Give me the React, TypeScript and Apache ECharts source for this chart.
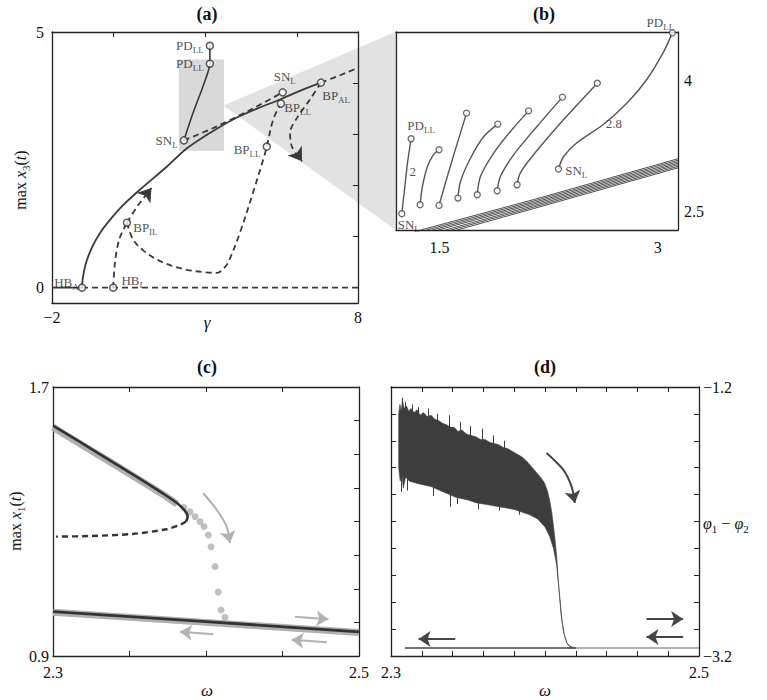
import React, { useEffect, useRef } from 'react';
import * as echarts from 'echarts';

const FONT = '"Liberation Serif", "DejaVu Serif", serif';
const DARK = '#3a3a3a';
const GRAY = '#b0b0b0';

// ---------- Panel (a) ----------
const aStableLeft = [[-2, 0], [-1.02, 0]];
const aTrivialUnstable = [[-1.02, 0], [8, 0]];
const aMainBranch = [[-1.02, 0], [-1.0, 0.15], [-0.96, 0.3], [-0.88, 0.5], [-0.7, 0.78], [-0.43, 1.07], [-0.1, 1.33], [0.3, 1.6], [0.88, 1.92], [1.76, 2.37], [2.4, 2.72], [3.2, 3.04], [3.92, 3.29], [4.7, 3.5], [5.45, 3.68], [6.1, 3.85], [6.79, 4.01]];
const aMainUnstable = [[6.79, 4.01], [7.4, 4.15], [8, 4.3]];
const aSnBranch = [[2.31, 2.88], [3.3, 3.13], [4.4, 3.45], [5.54, 3.82]];
const aPdBranch = [[2.31, 2.88], [2.61, 3.42], [2.93, 3.93], [3.16, 4.38], [3.16, 4.73]];
const aHbiRise = [[0, 0], [0.06, 0.5], [0.2, 0.95], [0.45, 1.27]];
const aBpilArrow = [[0.45, 1.27], [0.8, 1.6], [1.25, 1.95]];
const aLoop = [[0.45, 1.27], [0.65, 0.94], [1.0, 0.72], [1.43, 0.55], [1.9, 0.43], [2.4, 0.35], [3.0, 0.3], [3.39, 0.29], [3.65, 0.4], [3.8, 0.55], [4.14, 1.07], [4.57, 1.86], [4.9, 2.5], [5.02, 2.76], [5.23, 3.29], [5.48, 3.6]];
const aBpalArrow = [[6.79, 4.01], [6.43, 3.68], [6.04, 3.35], [5.78, 3.03], [5.84, 2.76], [6.17, 2.47]];
const aPoints = [[-1.02, 0], [0, 0], [0.45, 1.27], [2.31, 2.88], [3.16, 4.38], [3.16, 4.73], [5.54, 3.82], [5.48, 3.6], [5.02, 2.76], [6.79, 4.01]];
const aPointNames = ['HB_A', 'HB_I', 'BP_IL', 'SN_L', 'PD_LL', 'PD_LL', 'SN_L', 'BP_LL', 'BP_LL', 'BP_AL'];
const aZoomRect = [[2.15, 4.46], [3.62, 2.68]];
const aConnector = [[3.62, 3.56], [9.24, 5.0], [9.24, 1.13]];

// ---------- Panel (b) ----------
const bCurves = [
  [[1.240, 2.477], [1.261, 2.789], [1.279, 3.057], [1.304, 3.336]],
  [[1.366, 2.580], [1.382, 2.789], [1.416, 3.018], [1.457, 3.152], [1.496, 3.210]],
  [[1.496, 2.572], [1.553, 2.904], [1.622, 3.286], [1.685, 3.630]],
  [[1.626, 2.656], [1.644, 2.847], [1.713, 3.115], [1.804, 3.362], [1.900, 3.504]],
  [[1.759, 2.694], [1.781, 2.904], [1.872, 3.172], [1.987, 3.420], [2.112, 3.656]],
  [[1.896, 2.740], [1.918, 2.904], [2.009, 3.152], [2.170, 3.477], [2.345, 3.813]],
  [[2.033, 2.809], [2.055, 2.943], [2.146, 3.152], [2.352, 3.553], [2.585, 3.973]],
  [[2.318, 2.99], [2.352, 3.13], [2.444, 3.29], [2.626, 3.50], [2.786, 3.74], [2.923, 4.01], [3.037, 4.32], [3.101, 4.55]],
];
const bBandStartX = [1.37, 1.41, 1.45, 1.49, 1.54, 1.58, 1.62];
const bBandMidX = 2.144;
const bBandMidY = [2.637, 2.620, 2.603, 2.586, 2.568, 2.551, 2.534];
const bBandEndX = 3.14;
const bBandEndY = [3.107, 3.090, 3.072, 3.055, 3.038, 3.020, 3.003];
const bBandBottomY = 2.29;
const bCurveNumbers = [{ value: [1.316, 2.96], text: '2' }, { value: [2.699, 3.51], text: '2.8' }];

// ---------- Panel (c) ----------
const cUpperStable = [[2.3, 1.585], [2.33, 1.502], [2.355, 1.432], [2.372, 1.383], [2.381, 1.355], [2.386, 1.333], [2.388, 1.315], [2.387, 1.300]];
const cUpperUnstable = [[2.387, 1.300], [2.383, 1.290], [2.374, 1.277], [2.352, 1.263], [2.325, 1.257], [2.302, 1.255]];
const cLowerStable = [[2.3, 1.032], [2.4, 1.002], [2.5, 0.972]];
const cSimUpper = [[2.3, 1.58], [2.33, 1.497], [2.355, 1.428], [2.372, 1.38], [2.381, 1.352]];
const cSimLower = [[2.3, 1.03], [2.4, 1.0], [2.5, 0.97]];
const cSimDrop = [[2.3855, 1.342], [2.3895, 1.329], [2.3928, 1.315], [2.3961, 1.300], [2.3987, 1.285], [2.4015, 1.260], [2.4033, 1.225], [2.4059, 1.166], [2.4080, 1.090], [2.4098, 1.037], [2.4124, 1.015]];
const cArrowDown = [[2.3982, 1.384], [2.4070, 1.335], [2.4135, 1.285], [2.4157, 1.236]];
const cArrowRight = [[2.4582, 1.017], [2.48, 1.009]];
const cArrowLeft1 = [[2.4048, 0.965], [2.383, 0.972]];
const cArrowLeft2 = [[2.479, 0.941], [2.456, 0.948]];

// ---------- Panel (d) ----------
const dUpper = [[2.3050, -1.40], [2.3058, -1.33], [2.3066, -1.38], [2.3075, -1.30], [2.3085, -1.36], [2.3100, -1.34], [2.3115, -1.38], [2.3130, -1.36], [2.3150, -1.39], [2.3170, -1.37], [2.3190, -1.41], [2.3210, -1.39], [2.3235, -1.42], [2.3260, -1.41], [2.3285, -1.44], [2.3310, -1.45], [2.3335, -1.47], [2.3360, -1.48], [2.3385, -1.50], [2.3410, -1.50], [2.3435, -1.53], [2.3460, -1.52], [2.3490, -1.55], [2.3520, -1.56], [2.3550, -1.57], [2.3580, -1.59], [2.3610, -1.59], [2.3640, -1.61], [2.3670, -1.62], [2.3700, -1.63], [2.3730, -1.65], [2.3760, -1.66], [2.3790, -1.68], [2.3820, -1.70], [2.3850, -1.72], [2.3880, -1.75], [2.3910, -1.79], [2.3940, -1.83], [2.3970, -1.87], [2.3995, -1.91], [2.4015, -1.97], [2.4030, -2.04], [2.4045, -2.14], [2.4060, -2.28], [2.4075, -2.45], [2.4090, -2.70], [2.4105, -2.90], [2.4120, -3.02], [2.4140, -3.10], [2.4165, -3.13], [2.4200, -3.14]];
const dLower = [[2.3050, -1.80], [2.3060, -1.90], [2.3070, -1.84], [2.3080, -1.95], [2.3095, -1.87], [2.3120, -1.90], [2.3150, -1.91], [2.3180, -1.92], [2.3220, -1.93], [2.3260, -1.94], [2.3300, -1.96], [2.3340, -1.98], [2.3380, -2.00], [2.3420, -2.02], [2.3460, -2.03], [2.3500, -2.04], [2.3550, -2.06], [2.3600, -2.07], [2.3650, -2.08], [2.3700, -2.09], [2.3750, -2.10], [2.3800, -2.11], [2.3850, -2.13], [2.3900, -2.15], [2.3950, -2.18], [2.4000, -2.24], [2.4030, -2.31], [2.4055, -2.40], [2.4075, -2.52], [2.4095, -2.75], [2.4110, -2.93], [2.4125, -3.04], [2.4145, -3.11], [2.4170, -3.14], [2.4200, -3.14]];
// individual noise spikes: [x, top, bottom]
const dSpikes = [[2.3072, -1.28, -1.40], [2.3092, -1.31, -1.40], [2.3140, -1.33, -1.42], [2.3178, -1.35, -1.43], [2.3244, -1.36, -1.45], [2.3302, -1.40, -1.48], [2.3376, -1.41, -1.52], [2.3448, -1.46, -1.55], [2.3512, -1.49, -1.58], [2.3592, -1.51, -1.61], [2.3662, -1.56, -1.64], [2.3738, -1.60, -1.67], [2.3064, -1.82, -1.98], [2.3108, -1.86, -1.97], [2.3272, -1.90, -2.01], [2.3386, -1.95, -2.09], [2.3428, -1.98, -2.07], [2.3564, -2.02, -2.11], [2.3702, -2.05, -2.12], [2.3836, -2.09, -2.15]];
const dFlatDark = [[2.309, -3.141], [2.42, -3.141]];
const dFlatGray = [[2.415, -3.141], [2.5, -3.141]];
const dArrowDown = [[2.4010, -1.691], [2.4118, -1.815], [2.4172, -1.939], [2.4194, -2.062]];
const dArrowRight = [[2.4659, -2.925], [2.4897, -2.925]];
const dArrowLeft1 = [[2.4897, -3.059], [2.4659, -3.059]];
const dArrowLeft2 = [[2.3417, -3.074], [2.3179, -3.074]];

// ---------- helpers ----------
const fmt = (v: number) => (v < 0 ? '\u2212' : '') + String(Math.abs(v));
const richSub = (name: string) => {
  const [m, s] = name.split('_');
  return s ? `{m|${m}}{s|${s}}` : `{m|${m}}`;
};
const labelRich = {
  m: { fontFamily: FONT, fontSize: 13, color: '#222', lineHeight: 18 },
  s: { fontFamily: FONT, fontSize: 9, color: '#222', lineHeight: 8, verticalAlign: 'bottom' },
};

const axis = (grid: number, position: string, min: number, max: number, ticks: number[], labels: number[], margin = 6) => ({
  type: 'value',
  gridIndex: grid,
  position,
  min,
  max,
  axisLine: { show: true, onZero: false, lineStyle: { color: '#222', width: 1.3 } },
  axisTick: { show: ticks.length > 0, inside: true, length: 5, customValues: ticks, lineStyle: { color: '#222', width: 1 } },
  axisLabel: { show: labels.length > 0, customValues: labels, margin, formatter: fmt, color: '#111', fontFamily: FONT, fontSize: 16 },
  splitLine: { show: false },
});

const ln = (g: number, data: number[][], color: string, width: number, dashed = false, z = 3, smooth: number | boolean = 0.3) => ({
  type: 'line', xAxisIndex: 2 * g, yAxisIndex: 2 * g, data, showSymbol: false, symbol: 'none', smooth,
  lineStyle: { color, width, type: dashed ? [6, 4] : 'solid', cap: 'butt' }, z, silent: true,
});

// arrow = body line + arrowhead drawn on the last segment
const arrow = (g: number, coords: number[][], color: string, width: number, dashed = false, size = 11) => [
  ln(g, coords, color, width, dashed, 5, coords.length > 2 ? 0.3 : false),
  {
    type: 'lines', coordinateSystem: 'cartesian2d', xAxisIndex: 2 * g, yAxisIndex: 2 * g,
    data: [{ coords: coords.slice(-2) }], symbol: ['none', 'arrow'], symbolSize: size,
    lineStyle: { color, width: 0.01, opacity: 1 }, z: 6, silent: true,
  },
];

const polygonSeries = (g: number, pts: number[][], color: string, z: number, clip = true) => ({
  type: 'custom', xAxisIndex: 2 * g, yAxisIndex: 2 * g, data: [pts[0]], clip, z, silent: true,
  renderItem: (_p: any, api: any) => ({
    type: 'polygon',
    shape: { points: pts.map((p) => api.coord(p)) },
    style: { fill: color, stroke: color, lineWidth: 0.6 },
  }),
});

export default function App() {
  const ref = useRef<HTMLDivElement>(null);
  useEffect(() => {
    if (!ref.current) return;
    const chart = echarts.init(ref.current, undefined, { renderer: 'svg' });

    const aLabelPlace: any[] = [
      { position: 'left', distance: -1, offset: [0, -5] },
      { position: 'right', distance: 4, offset: [0, -7] },
      { position: 'right', distance: 2, offset: [0, 5] },
      { position: 'left', distance: 2, offset: [0, 0] },
      { position: 'left', distance: 2, offset: [0, 0] },
      { position: 'left', distance: 2, offset: [0, 0] },
      { position: 'top', distance: 3, offset: [2, 0] },
      { position: 'right', distance: 2, offset: [-3, 4] },
      { position: 'left', distance: 2, offset: [0, 3] },
      { position: 'right', distance: 2, offset: [-5, 13] },
    ];
    const lbl = (extra: any, name: string) => ({ show: true, color: '#222', ...extra, formatter: richSub(name), rich: labelRich });

    const bEnds: any[] = [];
    bCurves.forEach((c, i) => {
      const first = c[0];
      const last = c[c.length - 1];
      const startItem: any = { value: first };
      const endItem: any = { value: last };
      if (i === 0) {
        startItem.label = lbl({ position: 'bottom', distance: 1, offset: [7, -3] }, 'SN_L');
        endItem.label = lbl({ position: 'top', distance: 1, offset: [10, 0] }, 'PD_LL');
      }
      if (i === bCurves.length - 1) {
        startItem.label = lbl({ position: 'right', distance: 3, offset: [0, 2] }, 'SN_L');
        endItem.label = lbl({ position: 'top', distance: 0, offset: [-12, 2] }, 'PD_LL');
      }
      bEnds.push(startItem, endItem);
    });

    const bBand = bBandStartX.map((x, i) => ({
      coords: [[x, bBandBottomY], [bBandMidX, bBandMidY[i]], [bBandEndX, bBandEndY[i]]],
    }));
    const dSpikeLines = dSpikes.map(([x, t, b]) => ({ coords: [[x, t], [x, b]] }));

    const circleStyle = { color: '#fff', borderColor: '#333', borderWidth: 1.5 };

    const series: any[] = [
      // ---- (a)
      polygonSeries(0, aConnector, '#e2e2e2', 0, false),
      {
        type: 'line', xAxisIndex: 0, yAxisIndex: 0, data: [], silent: true, z: 0,
        markArea: { silent: true, itemStyle: { color: '#d9d9d9' }, data: [[{ coord: aZoomRect[0] }, { coord: aZoomRect[1] }]] },
      },
      ln(0, aStableLeft, DARK, 1.8, false, 3, false),
      ln(0, aTrivialUnstable, DARK, 1.8, true, 3, false),
      ln(0, aMainBranch, DARK, 1.8, false, 3, 0.3),
      ln(0, aMainUnstable, DARK, 1.8, true, 3, 0.2),
      ln(0, aSnBranch, DARK, 1.8, true, 3, 0.2),
      ln(0, aPdBranch, DARK, 1.6, false, 3, 0.2),
      ln(0, aHbiRise, DARK, 1.8, true, 3, 0.3),
      ln(0, aLoop, DARK, 1.8, true, 3, 0.35),
      ...arrow(0, aBpilArrow, DARK, 1.8, true, 13),
      ...arrow(0, aBpalArrow, DARK, 1.8, true, 13),
      {
        type: 'scatter', xAxisIndex: 0, yAxisIndex: 0, symbol: 'circle', symbolSize: 7, itemStyle: circleStyle, z: 8, silent: true,
        data: aPoints.map((p, i) => ({ value: p, label: lbl(aLabelPlace[i], aPointNames[i]) })),
      },
      // ---- (b)
      {
        type: 'lines', coordinateSystem: 'cartesian2d', xAxisIndex: 2, yAxisIndex: 2, polyline: true, data: bBand,
        lineStyle: { color: '#3a3a3a', width: 0.9, opacity: 1 }, z: 2, silent: true,
      },
      ...bCurves.map((c) => ln(1, c, '#555', 1.4, false, 3, 0.3)),
      {
        type: 'scatter', xAxisIndex: 2, yAxisIndex: 2, symbol: 'circle', symbolSize: 6,
        itemStyle: { color: '#fff', borderColor: '#444', borderWidth: 1.3 }, z: 8, silent: true, data: bEnds,
      },
      {
        type: 'scatter', xAxisIndex: 2, yAxisIndex: 2, symbolSize: 0, z: 8, silent: true,
        data: bCurveNumbers.map((n) => ({
          value: n.value,
          label: { show: true, position: 'inside', formatter: n.text, fontFamily: FONT, fontSize: 13, color: '#222' },
        })),
      },
      // ---- (c)
      ln(2, cSimUpper, GRAY, 7, false, 1, 0.2),
      ln(2, cSimLower, GRAY, 7, false, 1, false),
      {
        type: 'scatter', xAxisIndex: 4, yAxisIndex: 4, symbol: 'circle', symbolSize: 7,
        itemStyle: { color: GRAY }, data: cSimDrop, z: 1, silent: true,
      },
      ln(2, cUpperStable, '#333', 2.6, false, 3, 0.3),
      ln(2, cUpperUnstable, '#333', 2.4, true, 3, 0.3),
      ln(2, cLowerStable, '#333', 2.8, false, 3, false),
      ...arrow(2, cArrowDown, GRAY, 2, false, 12),
      ...arrow(2, cArrowRight, GRAY, 2, false, 12),
      ...arrow(2, cArrowLeft1, GRAY, 2, false, 12),
      ...arrow(2, cArrowLeft2, GRAY, 2, false, 12),
      // ---- (d)
      polygonSeries(3, dUpper.concat(dLower.slice().reverse()), '#3d3d3d', 2),
      {
        type: 'lines', coordinateSystem: 'cartesian2d', xAxisIndex: 6, yAxisIndex: 6, data: dSpikeLines,
        lineStyle: { color: '#3d3d3d', width: 1, opacity: 1 }, z: 2, silent: true,
      },
      ln(3, dFlatGray, '#999', 1.6, false, 2, false),
      ln(3, dFlatDark, '#444', 1.6, false, 3, false),
      ...arrow(3, dArrowDown, '#444', 2, false, 12),
      ...arrow(3, dArrowRight, '#444', 2, false, 12),
      ...arrow(3, dArrowLeft1, '#444', 2, false, 12),
      ...arrow(3, dArrowLeft2, '#444', 2, false, 12),
    ];

    const nameRich = {
      r: { fontFamily: FONT, fontSize: 16, color: '#111', lineHeight: 22 },
      i: { fontFamily: FONT, fontSize: 16, fontStyle: 'italic', color: '#111', lineHeight: 22 },
      s: { fontFamily: FONT, fontSize: 11, color: '#111', lineHeight: 10, verticalAlign: 'bottom' },
    };
    const title = (t: string, x: number, y: number) => ({
      type: 'text', x, y, silent: true,
      style: { text: t, fontFamily: FONT, fontSize: 18, fontWeight: 'bold', fill: '#111', align: 'center', verticalAlign: 'middle' },
    });
    const plain = (t: string, x: number, y: number) => ({
      type: 'text', x, y, silent: true,
      style: { text: t, fontFamily: FONT, fontSize: 17, fontStyle: 'italic', fill: '#111', align: 'center', verticalAlign: 'middle' },
    });
    const richText = (t: string, x: number, y: number, rotation = 0, align = 'center') => ({
      type: 'text', x, y, rotation, silent: true,
      style: { text: t, rich: nameRich, align, verticalAlign: 'middle', fontFamily: FONT, fontSize: 16, fill: '#111' },
    });

    chart.setOption({
      animation: false,
      backgroundColor: '#fff',
      grid: [
        { left: 52, top: 32, width: 306, height: 271 },
        { left: 396, top: 32, width: 282, height: 198 },
        { left: 53, top: 387, width: 306, height: 269 },
        { left: 391, top: 387, width: 308, height: 269 },
      ],
      xAxis: [
        axis(0, 'bottom', -2, 8, [], [-2, 8], 6),
        axis(0, 'top', -2, 8, [0, 3, 6], []),
        axis(1, 'bottom', 1.2, 3.14, [], [1.5, 3], 9),
        axis(1, 'top', 1.2, 3.14, [], []),
        axis(2, 'bottom', 2.3, 2.5, [2.35, 2.4, 2.45], [2.3, 2.5], 8),
        axis(2, 'top', 2.3, 2.5, [2.35, 2.4, 2.45], []),
        axis(3, 'bottom', 2.3, 2.5, [2.32, 2.34, 2.36, 2.38, 2.4, 2.42, 2.44, 2.46, 2.48], [2.3, 2.5], 8),
        axis(3, 'top', 2.3, 2.5, [2.32, 2.34, 2.36, 2.38, 2.4, 2.42, 2.44, 2.46, 2.48], []),
      ],
      yAxis: [
        axis(0, 'left', -0.3, 5, [], [0, 5], 8),
        axis(0, 'right', -0.3, 5, [1, 2, 3, 4], []),
        axis(1, 'left', 2.29, 4.56, [], []),
        axis(1, 'right', 2.29, 4.56, [], [2.5, 4], 6),
        axis(2, 'left', 0.9, 1.7, [], [0.9, 1.7], 4),
        axis(2, 'right', 0.9, 1.7, [1.0, 1.1, 1.2, 1.3, 1.4, 1.5, 1.6], []),
        axis(3, 'left', -3.2, -1.2, [-3.0, -2.8, -2.6, -2.4, -2.2, -2.0, -1.8, -1.6, -1.4], []),
        axis(3, 'right', -3.2, -1.2, [-3.0, -2.8, -2.6, -2.4, -2.2, -2.0, -1.8, -1.6, -1.4], [-3.2, -1.2], 4),
      ],
      series,
      graphic: [
        title('(a)', 207, 14),
        title('(b)', 544, 14),
        title('(c)', 207, 367),
        title('(d)', 545, 367),
        plain('\u03b3', 207, 322),
        plain('\u03c9', 207, 690),
        plain('\u03c9', 545, 690),
        richText('{r|max }{i|x}{s|3}{r|(}{i|t}{r|)}', 20, 180, Math.PI / 2),
        richText('{r|max }{i|x}{s|1}{r|(}{i|t}{r|)}', 15, 521, Math.PI / 2),
        richText('{i|\u03c6}{s|1}{r| \u2212 }{i|\u03c6}{s|2}', 703, 523, 0, 'left'),
      ],
    });
    return () => chart.dispose();
  }, []);
  return <div ref={ref} style={{ position: 'fixed', left: 0, top: 0, width: 767, height: 700, background: '#fff' }} />;
}
